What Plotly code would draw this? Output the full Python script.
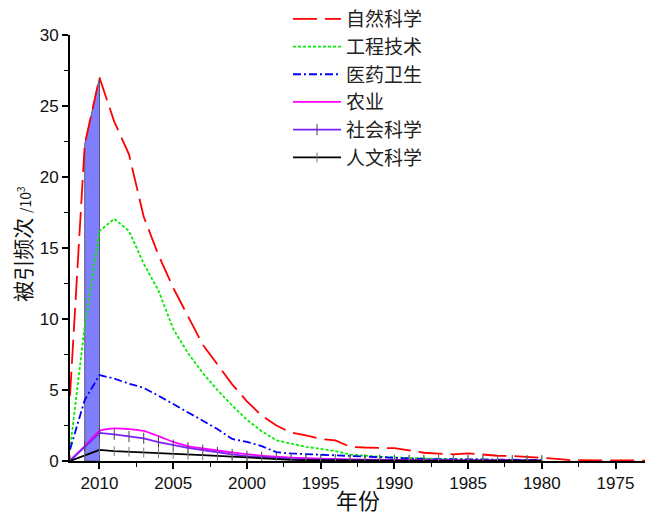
import plotly.graph_objects as go

years_long = list(range(2012, 1972, -1))   # 2012 .. 1973
years = list(range(2012, 1979, -1))        # 2012 .. 1980

natural_sci = [4.6, 22.3, 27.0, 23.9, 21.6, 17.2, 14.5, 12.2, 10.2, 8.2,
               6.8, 5.4, 4.2, 3.2, 2.5, 2.0, 1.8, 1.55, 1.45, 1.0,
               0.95, 0.9, 0.9, 0.75, 0.58, 0.52, 0.47, 0.54, 0.45, 0.37,
               0.36, 0.3, 0.25, 0.15, 0.06, 0.05, 0.04, 0.08, 0.03, 0.03]
engineering = [0.8, 9.5, 16.2, 17.05, 16.2, 13.9, 12.0, 9.3, 7.6, 6.2,
               5.0, 3.9, 2.9, 2.1, 1.45, 1.2, 1.0, 0.85, 0.7, 0.45,
               0.35, 0.3, 0.25, 0.2, 0.18, 0.15, 0.13, 0.12, 0.1, 0.08,
               0.07, 0.06, 0.05]
medicine = [0.8, 4.3, 6.05, 5.8, 5.45, 5.15, 4.6, 4.0, 3.4, 2.8,
            2.25, 1.55, 1.35, 1.05, 0.62, 0.53, 0.48, 0.45, 0.38, 0.34,
            0.3, 0.26, 0.22, 0.18, 0.14, 0.13, 0.12, 0.11, 0.1, 0.09,
            0.08, 0.08, 0.07]
agriculture = [0.05, 1.05, 2.12, 2.3, 2.25, 2.12, 1.75, 1.35, 1.05, 0.88,
               0.74, 0.6, 0.48, 0.37, 0.3, 0.24, 0.2, 0.17, 0.14, 0.12,
               0.1, 0.09, 0.08, 0.07, 0.06, 0.06, 0.05, 0.05, 0.04, 0.04,
               0.03, 0.03, 0.03]
social_sci = [0.0, 1.0, 1.98, 1.88, 1.72, 1.6, 1.33, 1.12, 0.93, 0.76,
              0.6, 0.46, 0.34, 0.26, 0.19, 0.15, 0.12, 0.1, 0.09, 0.08,
              0.07, 0.06, 0.05, 0.05, 0.04, 0.04, 0.03, 0.03, 0.03, 0.02,
              0.02, 0.02, 0.02]
humanities = [0.0, 0.38, 0.78, 0.7, 0.66, 0.6, 0.55, 0.5, 0.45, 0.41,
              0.36, 0.3, 0.22, 0.15, 0.1, 0.08, 0.06, 0.05, 0.05, 0.04,
              0.04, 0.04, 0.03, 0.03, 0.03, 0.03, 0.03, 0.02, 0.02, 0.02,
              0.02, 0.02, 0.02]

names = ["自然科学", "工程技术", "医药卫生", "农业", "社会科学", "人文科学"]
highlight_years = [2011, 2010]
x_title = "年份"
y_title = "被引频次 <span style='font-size:14px'>/10<sup>3</sup></span>"

fig = go.Figure()

# shaded band under the natural-science curve between 2011 and 2010
i0 = years_long.index(highlight_years[0])
i1 = years_long.index(highlight_years[1])
fig.add_trace(go.Scatter(
    x=[highlight_years[0], highlight_years[0], highlight_years[1], highlight_years[1], highlight_years[0]],
    y=[0, natural_sci[i0], natural_sci[i1], 0, 0],
    fill="toself", fillcolor="rgb(128,128,255)",
    line=dict(color="#555577", width=1), mode="lines",
    showlegend=False, hoverinfo="skip"))

fig.add_trace(go.Scatter(x=years_long, y=natural_sci, name=names[0], mode="lines",
                         line=dict(color="#ff0000", width=1.8, dash="24px,8px")))
fig.add_trace(go.Scatter(x=years, y=engineering, name=names[1], mode="lines",
                         line=dict(color="#00ee00", width=1.8, dash="3px,2px")))
fig.add_trace(go.Scatter(x=years, y=medicine, name=names[2], mode="lines",
                         line=dict(color="#0000ff", width=1.8, dash="8px,3px,2px,3px")))
fig.add_trace(go.Scatter(x=years, y=agriculture, name=names[3], mode="lines",
                         line=dict(color="#ff00ff", width=1.8, shape="spline", smoothing=0.6)))
fig.add_trace(go.Scatter(x=years, y=social_sci, name=names[4], mode="lines+markers",
                         line=dict(color="#7f1fff", width=1.8),
                         marker=dict(symbol="line-ns", size=8, line=dict(color="#444444", width=1))))
fig.add_trace(go.Scatter(x=years, y=humanities, name=names[5], mode="lines+markers",
                         line=dict(color="#000000", width=1.8),
                         marker=dict(symbol="line-ns", size=7, line=dict(color="#777777", width=1))))

tick_font = dict(family="Liberation Sans, Arial", size=17, color="#111111")
cjk = "Noto Sans CJK SC"

fig.update_layout(
    width=645, height=518,
    margin=dict(l=70, r=0, t=35, b=57, autoexpand=False),
    paper_bgcolor="white", plot_bgcolor="white",
    showlegend=True,
    legend=dict(xref="container", yref="container", x=288 / 645, y=1 + 1 / 518,
                xanchor="left", yanchor="top",
                bgcolor="rgba(0,0,0,0)", font=dict(family=cjk, size=19, color="#222222"),
                tracegroupgap=0, itemwidth=48),
    xaxis=dict(range=[2012, 1973], autorange=False, tick0=2010, dtick=5,
               ticks="outside", ticklen=6, tickwidth=1.5, tickcolor="black",
               minor=dict(dtick=2.5, tick0=2010, ticks="outside", ticklen=4, tickwidth=1.2, tickcolor="black"),
               showline=True, linecolor="black", linewidth=2, showgrid=False, zeroline=False,
               tickfont=tick_font, automargin=False),
    yaxis=dict(range=[0, 30], autorange=False, tick0=0, dtick=5,
               ticks="outside", ticklen=6, tickwidth=1.5, tickcolor="black",
               minor=dict(dtick=2.5, ticks="outside", ticklen=4, tickwidth=1.2, tickcolor="black"),
               showline=True, linecolor="black", linewidth=2, showgrid=False, zeroline=False,
               tickfont=tick_font, automargin=False),
    annotations=[
        dict(text=x_title, xref="paper", yref="paper", x=0.5, y=-38 / 426,
             xanchor="center", yanchor="middle", showarrow=False,
             font=dict(family=cjk, size=22, color="#111111")),
        dict(text=y_title, xref="paper", yref="paper", x=-48 / 575, y=0.51,
             xanchor="center", yanchor="middle", showarrow=False, textangle=-90,
             font=dict(family=cjk, size=21, color="#111111")),
    ],
)

fig.write_html("out.html", config={"displayModeBar": False},
               post_script="document.body.style.margin='0px';")
